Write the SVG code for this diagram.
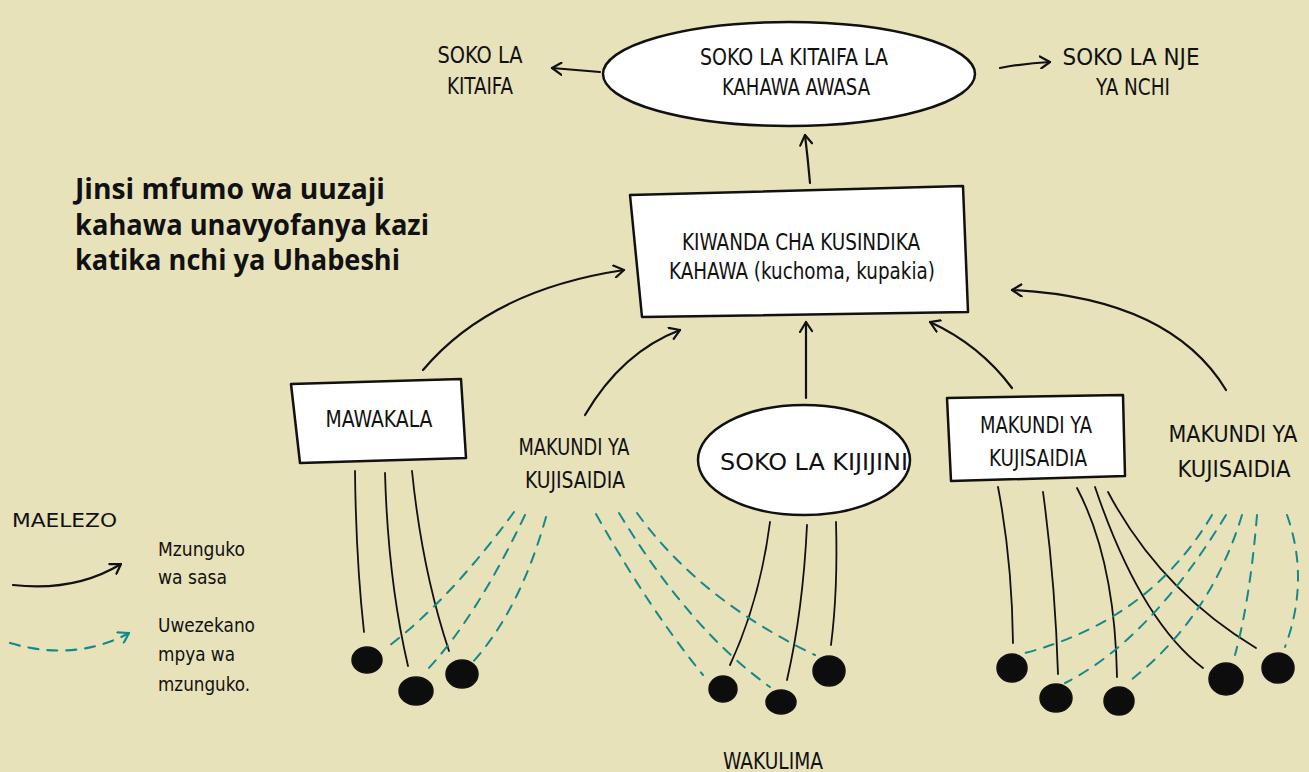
<svg xmlns="http://www.w3.org/2000/svg" width="1309" height="772" viewBox="0 0 1309 772">
<defs>
<style>
.hw{font-family:"Liberation Sans Narrow","DejaVu Sans Condensed","Liberation Sans",sans-serif;font-size:23px;fill:#111;text-anchor:middle}
.lg{font-family:"Liberation Sans Narrow","DejaVu Sans Condensed","Liberation Sans",sans-serif;font-size:20px;fill:#111}
.title{font-family:"Open Sans","Noto Sans","Liberation Sans",sans-serif;font-size:28px;font-weight:700;fill:#111}
.shape{fill:#fff;stroke:#111;stroke-width:2.5;stroke-linejoin:round}
.arr{fill:none;stroke:#111;stroke-width:2.2;stroke-linecap:round;marker-end:url(#ah)}
.ln{fill:none;stroke:#111;stroke-width:1.8;stroke-linecap:round}
.dl{fill:none;stroke:#15898a;stroke-width:2;stroke-dasharray:10 9;stroke-linecap:round}
.bean{fill:#0d0d0d;stroke:#111;stroke-width:1.5}
</style>
<marker id="ah" markerWidth="14" markerHeight="14" refX="11" refY="7" orient="auto" markerUnits="userSpaceOnUse">
<path d="M1,1 L11,7 L2,13" fill="none" stroke="#111" stroke-width="2.2" stroke-linecap="round" stroke-linejoin="round"/>
</marker>
<marker id="aht" markerWidth="14" markerHeight="14" refX="11" refY="7" orient="auto" markerUnits="userSpaceOnUse">
<path d="M1,1 L11,7 L2,13" fill="none" stroke="#15898a" stroke-width="2.2" stroke-linecap="round" stroke-linejoin="round"/>
</marker>
</defs>
<rect x="0" y="0" width="1309" height="772" fill="#e8e2ba"/>

<g id="title">
<text class="title" x="75" y="199" textLength="310" lengthAdjust="spacingAndGlyphs">Jinsi mfumo wa uuzaji</text>
<text class="title" x="75" y="235" textLength="354" lengthAdjust="spacingAndGlyphs">kahawa unavyofanya kazi</text>
<text class="title" x="75" y="270" textLength="325" lengthAdjust="spacingAndGlyphs">katika nchi ya Uhabeshi</text>
</g>

<g id="connectors">
<path class="arr" d="M600,72 Q576,70 552,68"/>
<path class="arr" d="M1000,68 Q1026,63 1050,62"/>
<path class="arr" d="M810,183 Q808,160 805,135"/>
<path class="arr" d="M423,370 Q490,290 624,270"/>
<path class="arr" d="M585,415 Q622,352 680,330"/>
<path class="arr" d="M806,398 L806,322"/>
<path class="arr" d="M1012,388 Q980,345 930,322"/>
<path class="arr" d="M1226,390 Q1170,298 1012,290"/>
<path class="ln" d="M355,471 Q356,560 364,632"/>
<path class="ln" d="M385,473 Q388,580 408,666"/>
<path class="ln" d="M412,471 Q422,570 449,651"/>
<path class="ln" d="M770,522 Q760,600 730,665"/>
<path class="ln" d="M807,525 Q803,610 787,680"/>
<path class="ln" d="M836,522 Q838,590 831,645"/>
<path class="ln" d="M998,487 Q1012,560 1013,643"/>
<path class="ln" d="M1043,492 Q1055,580 1058,674"/>
<path class="ln" d="M1077,488 Q1115,560 1117,677"/>
<path class="ln" d="M1095,487 Q1140,620 1203,668"/>
<path class="ln" d="M1108,492 Q1160,590 1256,648"/>
<path class="dl" d="M514,512 Q450,600 385,649"/>
<path class="dl" d="M525,515 Q475,620 425,672"/>
<path class="dl" d="M546,517 Q520,610 472,663"/>
<path class="dl" d="M596,514 Q650,610 703,675"/>
<path class="dl" d="M619,513 Q690,630 770,687"/>
<path class="dl" d="M637,513 Q700,600 815,655"/>
<path class="dl" d="M1212,515 Q1150,620 1025,653"/>
<path class="dl" d="M1226,515 Q1150,640 1065,683"/>
<path class="dl" d="M1242,515 Q1210,620 1127,683"/>
<path class="dl" d="M1257,515 Q1250,600 1235,655"/>
<path class="dl" d="M1287,515 Q1310,580 1285,647"/>
</g>

<g id="soko-awasa">
<ellipse class="shape" cx="789" cy="74" rx="186" ry="52"/>
<text class="hw" x="794" y="65" textLength="188" lengthAdjust="spacingAndGlyphs">SOKO LA KITAIFA LA</text>
<text class="hw" x="796" y="95" textLength="148" lengthAdjust="spacingAndGlyphs">KAHAWA AWASA</text>
</g>

<g id="soko-kitaifa">
<text class="hw" x="480" y="63" textLength="85" lengthAdjust="spacingAndGlyphs">SOKO LA</text>
<text class="hw" x="480" y="94" textLength="66" lengthAdjust="spacingAndGlyphs">KITAIFA</text>
</g>

<g id="soko-nje">
<text class="hw" x="1131" y="65" textLength="137" lengthAdjust="spacingAndGlyphs">SOKO LA NJE</text>
<text class="hw" x="1133" y="95" textLength="74" lengthAdjust="spacingAndGlyphs">YA NCHI</text>
</g>

<g id="kiwanda">
<path class="shape" d="M630,195 L963,186 L968,312 L642,317 Z"/>
<text class="hw" x="801" y="250" textLength="238" lengthAdjust="spacingAndGlyphs">KIWANDA CHA KUSINDIKA</text>
<text class="hw" x="802" y="279" textLength="266" lengthAdjust="spacingAndGlyphs">KAHAWA (kuchoma, kupakia)</text>
</g>

<g id="mawakala">
<path class="shape" d="M291,384 L461,379 L466,458 L300,463 Z"/>
<text class="hw" x="379" y="427" textLength="107" lengthAdjust="spacingAndGlyphs">MAWAKALA</text>
</g>

<g id="makundi-kushoto">
<text class="hw" x="574" y="455" textLength="111" lengthAdjust="spacingAndGlyphs">MAKUNDI YA</text>
<text class="hw" x="575" y="488" textLength="100" lengthAdjust="spacingAndGlyphs">KUJISAIDIA</text>
</g>

<g id="soko-kijijini">
<ellipse class="shape" cx="804" cy="460" rx="106" ry="55"/>
<text class="hw" x="814" y="470" textLength="188" lengthAdjust="spacingAndGlyphs">SOKO LA KIJIJINI</text>
</g>

<g id="makundi-kati">
<path class="shape" d="M947,398 L1123,395 L1125,476 L951,481 Z"/>
<text class="hw" x="1036" y="433" textLength="112" lengthAdjust="spacingAndGlyphs">MAKUNDI YA</text>
<text class="hw" x="1038" y="466" textLength="98" lengthAdjust="spacingAndGlyphs">KUJISAIDIA</text>
</g>

<g id="makundi-kulia">
<text class="hw" x="1233" y="442" textLength="129" lengthAdjust="spacingAndGlyphs">MAKUNDI YA</text>
<text class="hw" x="1234" y="477" textLength="113" lengthAdjust="spacingAndGlyphs">KUJISAIDIA</text>
</g>

<g id="wakulima">
<ellipse class="bean" cx="367" cy="660" rx="15" ry="13"/>
<ellipse class="bean" cx="416" cy="691" rx="17" ry="14"/>
<ellipse class="bean" cx="462" cy="674" rx="16" ry="14"/>
<ellipse class="bean" cx="723" cy="689" rx="14" ry="13"/>
<ellipse class="bean" cx="781" cy="702" rx="15" ry="12"/>
<ellipse class="bean" cx="829" cy="671" rx="16" ry="15"/>
<ellipse class="bean" cx="1012" cy="668" rx="15" ry="14"/>
<ellipse class="bean" cx="1056" cy="698" rx="16" ry="14"/>
<ellipse class="bean" cx="1119" cy="701" rx="15" ry="14"/>
<ellipse class="bean" cx="1226" cy="679" rx="17" ry="16"/>
<ellipse class="bean" cx="1278" cy="668" rx="16" ry="15"/>
<text class="hw" x="773" y="769" textLength="100" lengthAdjust="spacingAndGlyphs">WAKULIMA</text>
</g>

<g id="maelezo">
<text class="lg" x="12" y="527" font-size="23" textLength="105" lengthAdjust="spacingAndGlyphs">MAELEZO</text>
<path class="arr" d="M13,585 Q75,592 121,564"/>
<path fill="none" stroke="#15898a" stroke-width="2.2" stroke-dasharray="10 9" stroke-linecap="round" marker-end="url(#aht)" d="M10,643 Q75,662 129,633"/>
<text class="lg" x="158" y="556" textLength="87" lengthAdjust="spacingAndGlyphs">Mzunguko</text>
<text class="lg" x="158" y="584" textLength="69" lengthAdjust="spacingAndGlyphs">wa sasa</text>
<text class="lg" x="158" y="632" textLength="97" lengthAdjust="spacingAndGlyphs">Uwezekano</text>
<text class="lg" x="158" y="661" textLength="77" lengthAdjust="spacingAndGlyphs">mpya wa</text>
<text class="lg" x="158" y="691" textLength="92" lengthAdjust="spacingAndGlyphs">mzunguko.</text>
</g>
</svg>
